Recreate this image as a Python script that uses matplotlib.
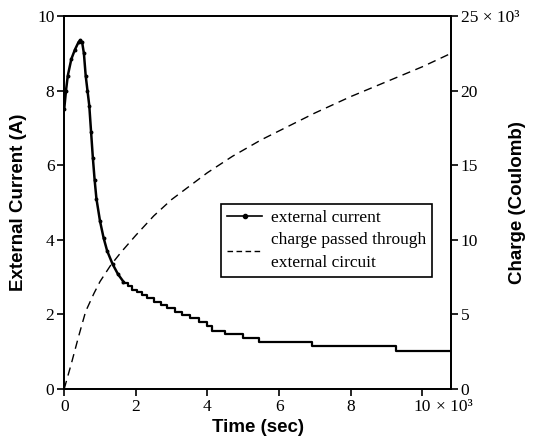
import matplotlib
matplotlib.use("Agg")
from matplotlib import pyplot as plt
from matplotlib.lines import Line2D
import numpy as np

# smooth early part of the external current (s, A)
t_early = [0, 50, 100, 200, 300, 400, 450, 500, 550, 600, 650, 700, 750,
           800, 850, 900, 1000, 1100, 1200, 1350, 1500, 1650]
i_early = [7.5, 8.0, 8.4, 8.85, 9.1, 9.3, 9.35, 9.3, 9.0, 8.4, 8.0, 7.6,
           6.9, 6.2, 5.6, 5.1, 4.5, 4.05, 3.7, 3.35, 3.08, 2.88]

# stepped later part (value holds until next time)
t_step = [1650, 1780, 1900, 2040, 2180, 2320, 2500, 2690, 2880, 3100, 3290,
          3520, 3750, 3990, 4140, 4500, 4990, 5450, 6910, 9260, 10800]
i_step = [2.85, 2.77, 2.66, 2.6, 2.51, 2.43, 2.33, 2.25, 2.16, 2.07, 1.98,
          1.89, 1.8, 1.68, 1.55, 1.46, 1.37, 1.25, 1.14, 1.03, 1.03]

# charge passed through external circuit (s, C)
t_q = [0, 200, 400, 600, 830, 1000, 1300, 1600, 2000, 2500, 3000, 3500,
       4000, 4700, 5500, 6000, 7000, 8000, 9000, 10000, 10800]
q = [0, 1700, 3500, 5200, 6400, 7200, 8300, 9200, 10300, 11600, 12700,
     13600, 14500, 15600, 16700, 17300, 18500, 19600, 20600, 21600, 22500]

x_ticks = [0, 2000, 4000, 6000, 8000, 10000]
x_labels = ['0', '2', '4', '6', '8', '10']
y_ticks = [0, 2, 4, 6, 8, 10]
q_ticks = [0, 5000, 10000, 15000, 20000, 25000]
q_labels = ['0', '5', '10', '15', '20', '25 \u00d7 10\u00b3']

serif = 'Liberation Serif'
sans = 'Liberation Sans'

fig = plt.figure(figsize=(5.35, 4.46), dpi=100)
ax = fig.add_axes([0.12, 0.128, 0.723, 0.836])
ax2 = ax.twinx()

ax.plot(t_early, i_early, color='black', lw=1.8, marker='o', ms=1.8)
ax.step(t_step, i_step, where='post', color='black', lw=1.6)
ax2.plot(t_q, q, color='black', lw=1.0, ls=(0, (6, 4)))

ax.set_xlim(0, 10800)
ax.set_ylim(0, 10)
ax2.set_ylim(0, 25000)

ax.set_xticks(x_ticks)
ax.set_xticklabels(x_labels, family=serif, fontsize=12.5)
ax.set_yticks(y_ticks)
ax.set_yticklabels([str(v) for v in y_ticks], family=serif, fontsize=12.5)
ax2.set_yticks(q_ticks)
ax2.set_yticklabels(q_labels, family=serif, fontsize=12.5)
# exponent tail next to the last x tick label
ax.annotate('\u00d7 10\u00b3', xy=(10000, 0), xycoords=('data', 'axes fraction'),
            xytext=(10, -7), textcoords='offset points', ha='left', va='top',
            family=serif, fontsize=12.5)

ax.tick_params(direction='out', length=5, width=1.2, pad=2)
ax2.tick_params(direction='out', length=5, width=1.2, pad=2)
for a in (ax, ax2):
    for s in a.spines.values():
        s.set_linewidth(1.3)

ax.set_xlabel('Time (sec)', family=sans, fontweight='bold', fontsize=13.5,
              labelpad=3)
ax.set_ylabel('External Current (A)', family=sans, fontweight='bold',
              fontsize=13.5, labelpad=7)
ax2.set_ylabel('Charge (Coulomb)', family=sans, fontweight='bold',
               fontsize=13.5, rotation=90)
ax2.yaxis.set_label_coords(1.15, 0.5)

handles = [Line2D([], [], color='black', lw=1.2, marker='o', ms=3),
           Line2D([], [], color='black', lw=1.0, ls=(0, (4, 2.5)))]
leg = ax.legend(handles, ['external current',
                          'charge passed through\nexternal circuit'],
                loc='upper left', bbox_to_anchor=(0.393, 0.51),
                prop={'family': serif, 'size': 12.5}, fancybox=False,
                framealpha=1, edgecolor='black', borderpad=0.35,
                borderaxespad=0.3, handlelength=2.0, handletextpad=0.5,
                labelspacing=0.35)
leg.get_texts()[1].set_linespacing(1.55)
leg.get_frame().set_linewidth(1.2)

fig.savefig('out.png', dpi=100)
